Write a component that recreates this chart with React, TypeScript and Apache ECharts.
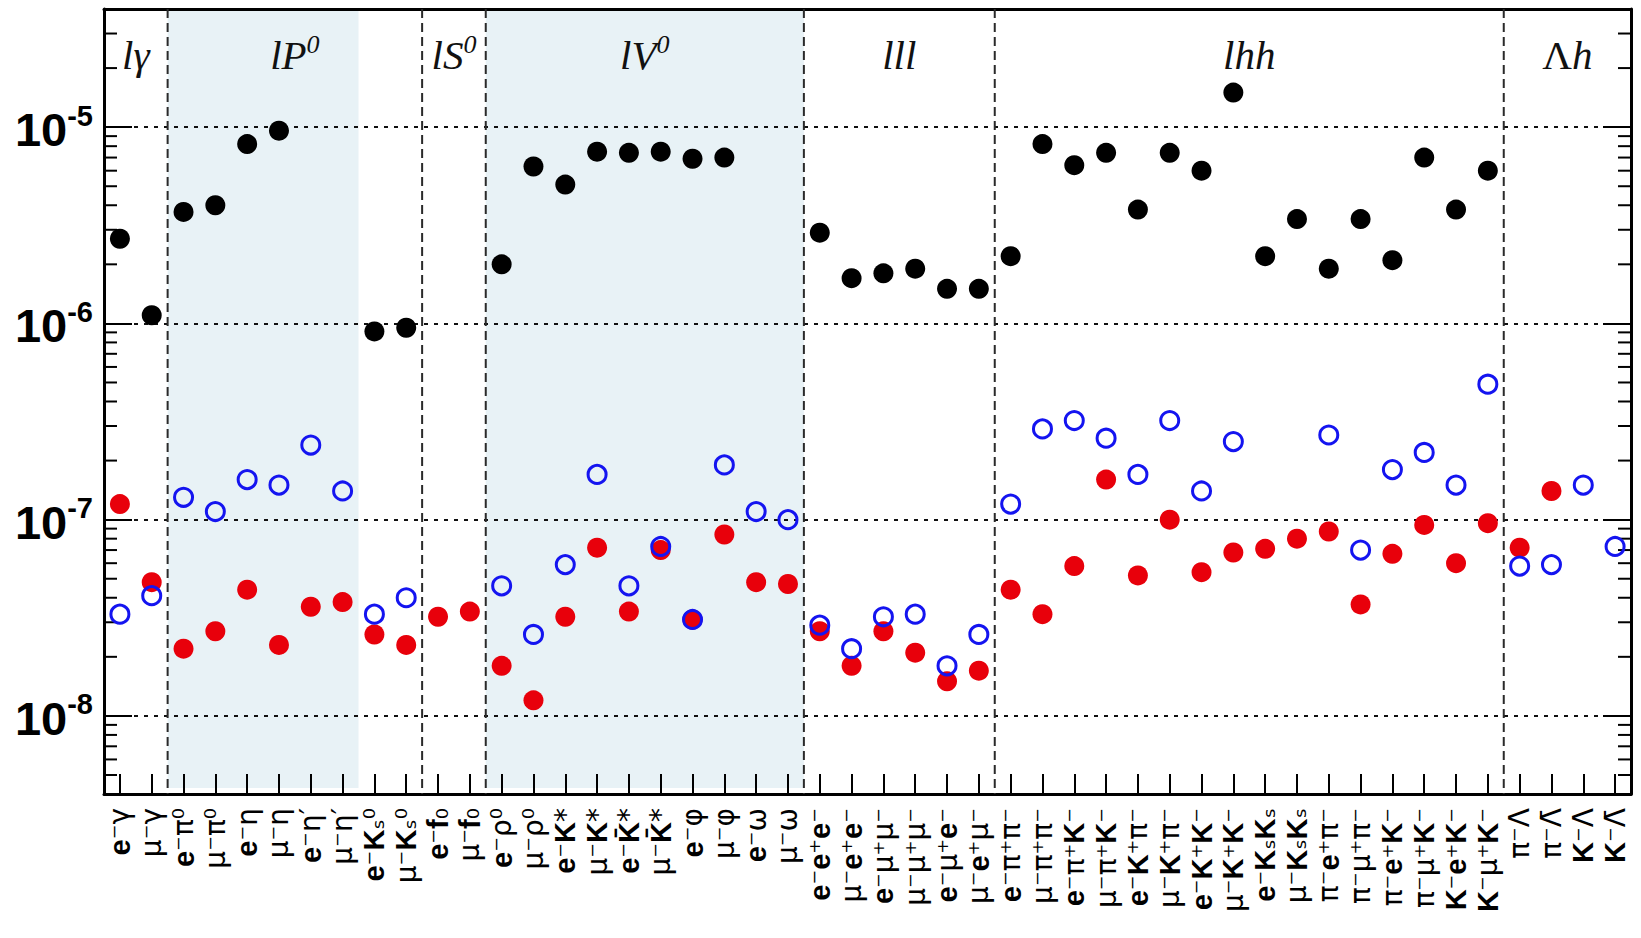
import React, { useEffect, useRef } from "react";
import * as echarts from "echarts";

const CATEGORIES = [
  "e⁻γ", "μ⁻γ", "e⁻π⁰", "μ⁻π⁰", "e⁻η", "μ⁻η", "e⁻η′", "μ⁻η′", "e⁻Kₛ⁰", "μ⁻Kₛ⁰",
  "e⁻f₀", "μ⁻f₀", "e⁻ρ⁰", "μ⁻ρ⁰", "e⁻K*", "μ⁻K*", "e⁻K̄*", "μ⁻K̄*", "e⁻φ", "μ⁻φ",
  "e⁻ω", "μ⁻ω", "e⁻e⁺e⁻", "μ⁻e⁺e⁻", "e⁻μ⁺μ⁻", "μ⁻μ⁺μ⁻", "e⁻μ⁺e⁻", "μ⁻e⁺μ⁻",
  "e⁻π⁺π⁻", "μ⁻π⁺π⁻", "e⁻π⁺K⁻", "μ⁻π⁺K⁻", "e⁻K⁺π⁻", "μ⁻K⁺π⁻", "e⁻K⁺K⁻", "μ⁻K⁺K⁻",
  "e⁻KₛKₛ", "μ⁻KₛKₛ", "π⁻e⁺π⁻", "π⁻μ⁺π⁻", "π⁻e⁺K⁻", "π⁻μ⁺K⁻", "K⁻e⁺K⁻", "K⁻μ⁺K⁻",
  "π⁻Λ", "π⁻Λ̄", "K⁻Λ", "K⁻Λ̄",
];

// black filled circles
const BLACK = [
  2.7e-6, 1.1e-6, 3.7e-6, 4.0e-6, 8.2e-6, 9.6e-6, null, null, 9.1e-7, 9.5e-7,
  null, null, 2.0e-6, 6.3e-6, 5.1e-6, 7.5e-6, 7.4e-6, 7.5e-6, 6.9e-6, 7.0e-6,
  null, null, 2.9e-6, 1.7e-6, 1.8e-6, 1.9e-6, 1.5e-6, 1.5e-6,
  2.2e-6, 8.2e-6, 6.4e-6, 7.4e-6, 3.8e-6, 7.4e-6, 6.0e-6, 1.5e-5,
  2.2e-6, 3.4e-6, 1.9e-6, 3.4e-6, 2.1e-6, 7.0e-6, 3.8e-6, 6.0e-6,
  null, null, null, null,
];

// red filled circles
const RED = [
  1.2e-7, 4.8e-8, 2.2e-8, 2.7e-8, 4.4e-8, 2.3e-8, 3.6e-8, 3.8e-8, 2.6e-8, 2.3e-8,
  3.2e-8, 3.4e-8, 1.8e-8, 1.2e-8, 3.2e-8, 7.2e-8, 3.4e-8, 7.0e-8, 3.1e-8, 8.4e-8,
  4.8e-8, 4.7e-8, 2.7e-8, 1.8e-8, 2.7e-8, 2.1e-8, 1.5e-8, 1.7e-8,
  4.4e-8, 3.3e-8, 5.8e-8, 1.6e-7, 5.2e-8, 1.0e-7, 5.4e-8, 6.8e-8,
  7.1e-8, 8.0e-8, 8.7e-8, 3.7e-8, 6.7e-8, 9.4e-8, 6.0e-8, 9.6e-8,
  7.2e-8, 1.4e-7, null, null,
];

// blue open circles
const BLUE = [
  3.3e-8, 4.1e-8, 1.3e-7, 1.1e-7, 1.6e-7, 1.5e-7, 2.4e-7, 1.4e-7, 3.3e-8, 4.0e-8,
  null, null, 4.6e-8, 2.6e-8, 5.9e-8, 1.7e-7, 4.6e-8, 7.3e-8, 3.1e-8, 1.9e-7,
  1.1e-7, 1.0e-7, 2.9e-8, 2.2e-8, 3.2e-8, 3.3e-8, 1.8e-8, 2.6e-8,
  1.2e-7, 2.9e-7, 3.2e-7, 2.6e-7, 1.7e-7, 3.2e-7, 1.4e-7, 2.5e-7,
  null, null, 2.7e-7, 7.0e-8, 1.8e-7, 2.2e-7, 1.5e-7, 4.9e-7,
  5.8e-8, 5.9e-8, 1.5e-7, 7.3e-8,
];

const Y_MIN = 4e-9;
const Y_MAX = 4e-5;

const GROUP_NAMES = ["{i|lγ}", "{i|lP}{s|0}", "{i|lS}{s|0}", "{i|lV}{s|0}", "{i|lll}", "{i|lhh}", "{u|Λ}{i|h}"];
const GROUP_START = [0, 2, 10, 12, 22, 28, 44];
const GROUP_END = [2, 10, 12, 22, 28, 44, 48];
const SHADED_START = [2, 12];
const SHADED_END = [8, 22];
const BOUNDARIES = [2, 10, 12, 22, 28, 44];
const MINOR_MULTIPLIERS = [2, 3, 4, 5, 6, 7, 8, 9];
const DECADES = [-9, -8, -7, -6, -5];

const MINOR_TICKS: number[] = [];
DECADES.forEach((e) =>
  MINOR_MULTIPLIERS.forEach((m) => {
    const v = m * Math.pow(10, e);
    if (v > Y_MIN * 1.001 && v < Y_MAX * 0.999) MINOR_TICKS.push(v);
  })
);

const isLatin = (ch: string) => /[A-Za-z]/.test(ch);
const isCombining = (ch: string) => /[\u0300-\u036f]/.test(ch);
const toRich = (s: string) => {
  let out = "";
  let cur = "";
  let curBold: boolean | null = null;
  for (const ch of Array.from(s)) {
    if (isCombining(ch)) {
      cur += ch;
      continue;
    }
    const b = isLatin(ch);
    if (curBold === null || b === curBold) {
      cur += ch;
      curBold = b;
    } else {
      out += `{${curBold ? "b" : "n"}|${cur}}`;
      cur = ch;
      curBold = b;
    }
  }
  if (cur) out += `{${curBold ? "b" : "n"}|${cur}}`;
  return out;
};

export default function App() {
  const ref = useRef<HTMLDivElement>(null);
  useEffect(() => {
    if (!ref.current) return;
    const chart = echarts.init(ref.current, null, { renderer: "svg" });
    const N = CATEGORIES.length;
    const bandOf = (api: any, cs: any) => {
      const s = api.size([1, 0]);
      const b = s && isFinite(s[0]) && s[0] > 0 ? s[0] : cs.width / N;
      return b;
    };
    const option: any = {
      animation: false,
      backgroundColor: "#ffffff",
      textStyle: { fontFamily: "'Liberation Sans', 'DejaVu Sans', sans-serif" },
      grid: { left: 104, right: 10, top: 9, bottom: 144, containLabel: false },
      xAxis: [
        {
          type: "category",
          data: CATEGORIES,
          position: "bottom",
          boundaryGap: true,
          axisLine: { show: true, onZero: false, lineStyle: { color: "#000", width: 3 } },
          axisTick: { show: true, inside: true, length: 20, alignWithLabel: true, interval: 0, lineStyle: { color: "#000", width: 2 } },
          axisLabel: {
            show: true,
            interval: 0,
            rotate: 90,
            margin: 14,
            color: "#000",
            formatter: (v: string) => toRich(v),
            rich: {
              b: { fontSize: 29, fontWeight: "bold", fontFamily: "'Liberation Sans', 'DejaVu Sans', sans-serif", color: "#000" },
              n: { fontSize: 28, fontWeight: "normal", fontFamily: "'DejaVu Sans', 'Liberation Sans', sans-serif", color: "#000" },
            },
          },
          splitLine: { show: false },
        },
        {
          type: "category",
          data: CATEGORIES,
          position: "top",
          axisLine: { show: true, onZero: false, lineStyle: { color: "#000", width: 3 } },
          axisTick: { show: false },
          axisLabel: { show: false },
          splitLine: { show: false },
        },
      ],
      yAxis: [
        {
          type: "log",
          logBase: 10,
          min: Y_MIN,
          max: Y_MAX,
          position: "left",
          axisLine: { show: true, onZero: false, lineStyle: { color: "#000", width: 3 } },
          axisTick: { show: true, inside: true, length: 28, lineStyle: { color: "#000", width: 2 } },
          axisLabel: {
            show: true,
            margin: 11,
            formatter: (v: number) => {
              const l = Math.log10(v);
              const e = Math.round(l);
              if (Math.abs(l - e) > 0.01) return "";
              return `{b|10}{s|${e}}`;
            },
            rich: {
              b: { fontSize: 47, fontWeight: "bold", color: "#000", fontFamily: "'Liberation Sans', sans-serif", lineHeight: 52, verticalAlign: "bottom" },
              s: { fontSize: 29, fontWeight: "bold", color: "#000", fontFamily: "'Liberation Sans', sans-serif", verticalAlign: "top", lineHeight: 52 },
            },
          },
          splitLine: { show: true, lineStyle: { color: "#111", width: 2, type: [4, 6] } },
        },
        {
          type: "log",
          logBase: 10,
          min: Y_MIN,
          max: Y_MAX,
          position: "right",
          axisLine: { show: true, onZero: false, lineStyle: { color: "#000", width: 3 } },
          axisTick: { show: true, inside: true, length: 28, lineStyle: { color: "#000", width: 2 } },
          axisLabel: { show: false },
          splitLine: { show: false },
        },
      ],
      series: [
        {
          type: "custom",
          name: "shading",
          z: -1,
          silent: true,
          data: SHADED_START.map((s, i) => [s, 1e-6, SHADED_END[i]]),
          renderItem: (params: any, api: any) => {
            const cs = params.coordSys;
            const band = bandOf(api, cs);
            const x1 = api.coord([api.value(0), 1e-6])[0] - band / 2;
            const x2 = api.coord([api.value(2) - 1, 1e-6])[0] + band / 2;
            return {
              type: "rect",
              shape: { x: x1, y: cs.y, width: x2 - x1, height: cs.height - 6 },
              style: { fill: "#e8f2f6" },
            };
          },
        },
        {
          type: "custom",
          name: "boundaries",
          z: 1,
          silent: true,
          data: BOUNDARIES.map((b) => [b, 1e-6]),
          renderItem: (params: any, api: any) => {
            const cs = params.coordSys;
            const band = bandOf(api, cs);
            const x = api.coord([api.value(0), 1e-6])[0] - band / 2;
            return {
              type: "line",
              shape: { x1: x, y1: cs.y, x2: x, y2: cs.y + cs.height },
              style: { stroke: "#2a2a2a", lineWidth: 2, lineDash: [9, 5] },
            };
          },
        },
        {
          type: "custom",
          name: "minorTicks",
          z: 1,
          silent: true,
          data: MINOR_TICKS.map((v) => [0, v]),
          renderItem: (params: any, api: any) => {
            const cs = params.coordSys;
            const y = api.coord([0, api.value(1)])[1];
            return {
              type: "group",
              children: [
                { type: "line", shape: { x1: cs.x, y1: y, x2: cs.x + 13, y2: y }, style: { stroke: "#000", lineWidth: 2 } },
                { type: "line", shape: { x1: cs.x + cs.width - 13, y1: y, x2: cs.x + cs.width, y2: y }, style: { stroke: "#000", lineWidth: 2 } },
              ],
            };
          },
        },
        {
          type: "custom",
          name: "groups",
          z: 3,
          silent: true,
          data: GROUP_START.map((s, i) => [s, 1e-6, GROUP_END[i]]),
          renderItem: (params: any, api: any) => {
            const cs = params.coordSys;
            const xa = api.coord([api.value(0), 1e-6])[0];
            const xb = api.coord([api.value(2) - 1, 1e-6])[0];
            return {
              type: "text",
              x: (xa + xb) / 2,
              y: cs.y + 44,
              style: {
                text: GROUP_NAMES[params.dataIndex],
                align: "center",
                verticalAlign: "middle",
                rich: {
                  i: { fontFamily: "'Liberation Serif', 'DejaVu Serif', serif", fontStyle: "italic", fontSize: 41, fill: "#111", lineHeight: 44, verticalAlign: "bottom" },
                  u: { fontFamily: "'Liberation Serif', 'DejaVu Serif', serif", fontSize: 41, fill: "#111", lineHeight: 44, verticalAlign: "bottom" },
                  s: { fontFamily: "'Liberation Serif', 'DejaVu Serif', serif", fontStyle: "italic", fontSize: 26, fill: "#111", lineHeight: 44, verticalAlign: "top" },
                },
              },
            };
          },
        },
        {
          type: "scatter",
          name: "black",
          z: 4,
          symbol: "circle",
          symbolSize: 20,
          itemStyle: { color: "#000000", opacity: 1 },
          data: BLACK.map((v) => (v == null ? "-" : v)),
        },
        {
          type: "scatter",
          name: "red",
          z: 5,
          symbol: "circle",
          symbolSize: 20,
          itemStyle: { color: "#e8000b", opacity: 1 },
          data: RED.map((v) => (v == null ? "-" : v)),
        },
        {
          type: "scatter",
          name: "blue",
          z: 6,
          symbol: "circle",
          symbolSize: 18,
          itemStyle: { color: "rgba(255,255,255,0)", borderColor: "#1414f0", borderWidth: 3, opacity: 1 },
          data: BLUE.map((v) => (v == null ? "-" : v)),
        },
      ],
    };
    chart.setOption(option);
    return () => chart.dispose();
  }, []);
  return (
    <div
      ref={ref}
      style={{ position: "absolute", left: 0, top: 0, width: 1641, height: 938, background: "#fff" }}
    />
  );
}
